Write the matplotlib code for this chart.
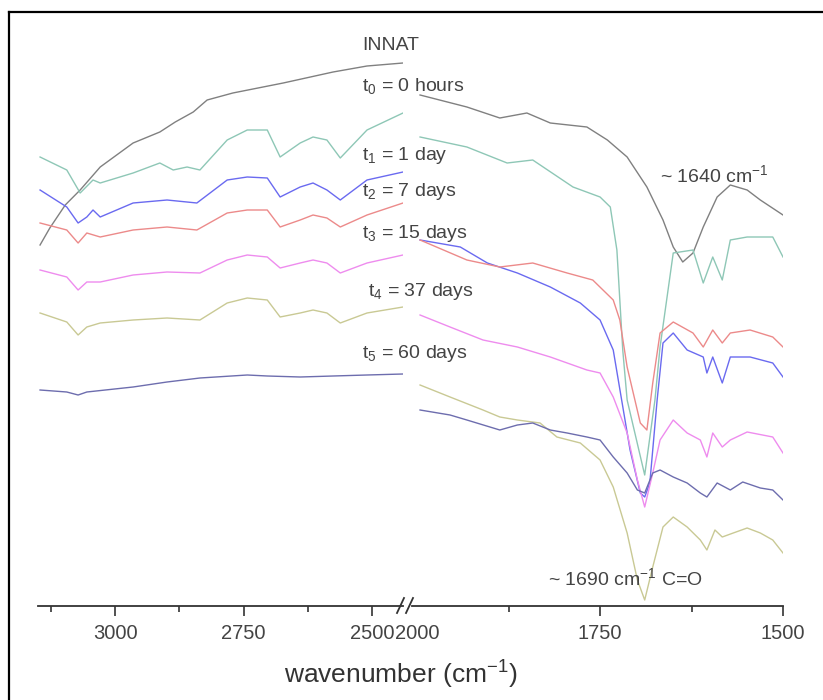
import matplotlib.pyplot as plt
from matplotlib.lines import Line2D
from matplotlib.ticker import FixedLocator

plt.rcParams['font.family'] = ['Liberation Sans', 'DejaVu Sans']
plt.rcParams['mathtext.fontset'] = 'custom'
plt.rcParams['mathtext.rm'] = 'Liberation Sans'
plt.rcParams['mathtext.it'] = 'Liberation Sans'
plt.rcParams['mathtext.default'] = 'regular'

# FTIR spectra, transmittance in arbitrary units (offset curves)
# high wavenumber region (3150-2440 cm-1)
wn_hi_innat = [3146, 3127, 3097, 3068, 3029, 2965, 2913, 2883, 2848, 2821, 2771, 2673, 2576, 2510, 2440]
tr_hi_innat = [361, 378, 401, 416, 439, 463, 474, 484, 494, 506, 513, 523, 534, 540, 543]

wn_hi_t0 = [3146, 3094, 3068, 3043, 3029, 2965, 2913, 2887, 2860, 2835, 2782, 2743, 2704, 2679, 2640, 2615, 2588, 2562, 2510, 2440]
tr_hi_t0 = [449, 436, 413, 426, 423, 433, 443, 436, 439, 436, 466, 476, 476, 449, 463, 469, 466, 448, 476, 493]

wn_hi_t1 = [3146, 3094, 3072, 3055, 3043, 3029, 2965, 2899, 2841, 2782, 2743, 2704, 2679, 2640, 2615, 2588, 2562, 2510, 2440]
tr_hi_t1 = [416, 399, 383, 389, 396, 389, 403, 406, 403, 426, 429, 428, 409, 419, 423, 416, 406, 426, 434]

wn_hi_t2 = [3146, 3094, 3072, 3055, 3029, 2965, 2899, 2841, 2782, 2743, 2704, 2679, 2640, 2615, 2588, 2562, 2510, 2440]
tr_hi_t2 = [383, 376, 363, 373, 369, 376, 379, 376, 393, 396, 396, 379, 386, 391, 388, 379, 391, 403]

wn_hi_t3 = [3146, 3094, 3072, 3055, 3029, 2965, 2899, 2835, 2782, 2743, 2704, 2679, 2640, 2615, 2588, 2562, 2510, 2440]
tr_hi_t3 = [336, 329, 316, 324, 324, 331, 334, 333, 346, 351, 349, 338, 343, 346, 343, 333, 343, 351]

wn_hi_t4 = [3146, 3094, 3072, 3055, 3029, 2965, 2899, 2835, 2782, 2743, 2704, 2679, 2640, 2615, 2588, 2562, 2510, 2440]
tr_hi_t4 = [293, 284, 271, 279, 283, 286, 288, 286, 303, 308, 306, 289, 293, 296, 293, 283, 293, 299]

wn_hi_t5 = [3146, 3094, 3072, 3055, 2965, 2899, 2835, 2743, 2704, 2640, 2576, 2510, 2440]
tr_hi_t5 = [216, 214, 211, 214, 219, 224, 228, 231, 230, 229, 230, 231, 232]

# low wavenumber region (2000-1500 cm-1)
wn_lo_innat = [1996, 1932, 1887, 1850, 1818, 1768, 1740, 1713, 1686, 1664, 1650, 1637, 1623, 1609, 1590, 1572, 1549, 1531, 1500]
tr_lo_innat = [511, 499, 488, 493, 483, 479, 466, 449, 419, 386, 359, 344, 353, 379, 409, 421, 416, 406, 391]

wn_lo_t0 = [1996, 1932, 1877, 1842, 1787, 1750, 1736, 1727, 1719, 1713, 1689, 1675, 1668, 1650, 1623, 1609, 1596, 1583, 1572, 1549, 1514, 1500]
tr_lo_t0 = [469, 459, 443, 446, 419, 409, 399, 356, 256, 206, 131, 206, 259, 353, 356, 323, 349, 326, 366, 369, 369, 349]

wn_lo_t1 = [1996, 1941, 1904, 1863, 1818, 1777, 1750, 1732, 1709, 1695, 1689, 1682, 1672, 1664, 1650, 1631, 1609, 1604, 1596, 1583, 1572, 1545, 1514, 1500]
tr_lo_t1 = [366, 359, 343, 333, 319, 303, 286, 256, 156, 113, 109, 123, 206, 263, 273, 256, 249, 233, 249, 223, 249, 249, 243, 229]

wn_lo_t2 = [1996, 1932, 1887, 1842, 1795, 1760, 1732, 1723, 1713, 1695, 1686, 1678, 1668, 1650, 1623, 1609, 1596, 1583, 1572, 1545, 1514, 1500]
tr_lo_t2 = [366, 346, 339, 343, 333, 326, 306, 286, 239, 183, 176, 223, 273, 284, 273, 259, 276, 263, 273, 276, 269, 259]

wn_lo_t3 = [1996, 1955, 1910, 1863, 1818, 1768, 1750, 1732, 1713, 1699, 1689, 1678, 1668, 1650, 1631, 1613, 1604, 1596, 1583, 1572, 1549, 1514, 1500]
tr_lo_t3 = [291, 279, 266, 259, 249, 236, 233, 209, 173, 126, 99, 133, 166, 186, 173, 166, 149, 173, 159, 166, 174, 169, 153]

wn_lo_t4 = [1996, 1955, 1910, 1887, 1863, 1832, 1809, 1777, 1750, 1732, 1713, 1699, 1689, 1678, 1664, 1650, 1631, 1613, 1604, 1593, 1583, 1568, 1549, 1531, 1514, 1500]
tr_lo_t4 = [221, 209, 196, 189, 186, 183, 169, 163, 146, 119, 73, 26, 6, 39, 79, 89, 79, 66, 56, 76, 69, 73, 78, 73, 66, 53]

wn_lo_t5 = [1996, 1955, 1932, 1887, 1863, 1842, 1818, 1795, 1768, 1750, 1732, 1713, 1699, 1689, 1678, 1668, 1650, 1631, 1613, 1604, 1590, 1572, 1555, 1531, 1514, 1500]
tr_lo_t5 = [196, 191, 186, 176, 181, 183, 176, 173, 169, 166, 149, 133, 116, 113, 133, 136, 129, 123, 113, 109, 123, 116, 124, 118, 116, 106]

labels = ['INNAT', '$t_0$ = 0 hours', '$t_1$ = 1 day', '$t_2$ = 7 days',
          '$t_3$ = 15 days', '$t_4$ = 37 days', '$t_5$ = 60 days']
colors = ['#808080', '#8ec7b6', '#6a6af0', '#ec8a8a', '#ee8cee', '#c9c994', '#6d6dae']

hi_x = [wn_hi_innat, wn_hi_t0, wn_hi_t1, wn_hi_t2, wn_hi_t3, wn_hi_t4, wn_hi_t5]
hi_y = [tr_hi_innat, tr_hi_t0, tr_hi_t1, tr_hi_t2, tr_hi_t3, tr_hi_t4, tr_hi_t5]
lo_x = [wn_lo_innat, wn_lo_t0, wn_lo_t1, wn_lo_t2, wn_lo_t3, wn_lo_t4, wn_lo_t5]
lo_y = [tr_lo_innat, tr_lo_t0, tr_lo_t1, tr_lo_t2, tr_lo_t3, tr_lo_t4, tr_lo_t5]

W, H = 823, 700
fig = plt.figure(figsize=(W / 100, H / 100), dpi=100)

def px(x, y):
    return x / W, 1 - y / H

bottom = 1 - 606 / H
height = 590 / H
ax1 = fig.add_axes([38 / W, bottom, 365 / W, height])
ax2 = fig.add_axes([412 / W, bottom, 371 / W, height])

for i in range(len(labels)):
    ax1.plot(hi_x[i], hi_y[i], color=colors[i], lw=1.0)
    ax2.plot(lo_x[i], lo_y[i], color=colors[i], lw=1.0)

ax1.set_xlim(3150, 2440)
ax2.set_xlim(2007, 1500)

for ax in (ax1, ax2):
    ax.set_ylim(0, 590)
    ax.set_yticks([])
    for s in ('top', 'left', 'right'):
        ax.spines[s].set_visible(False)
    ax.spines['bottom'].set_linewidth(1.3)
    ax.spines['bottom'].set_color('#333333')
    ax.patch.set_alpha(0)
    ax.tick_params(axis='x', which='major', direction='out', length=7, width=1.2,
                   labelsize=14.5, colors='#333333', pad=6)
    ax.tick_params(axis='x', which='minor', direction='out', length=4, width=1.2,
                   colors='#333333')
    for lab in ax.get_xticklabels():
        lab.set_color('#444444')

ax1.xaxis.set_major_locator(FixedLocator([3000, 2750, 2500]))
ax1.xaxis.set_minor_locator(FixedLocator([3125, 2875, 2625]))
ax2.xaxis.set_major_locator(FixedLocator([2000, 1750, 1500]))
ax2.xaxis.set_minor_locator(FixedLocator([1875, 1625]))
ax1.set_xticklabels(['3000', '2750', '2500'], color='#444444')
ax2.set_xticklabels(['2000', '1750', '1500'], color='#444444')
ax2.get_xticklines()[0].set_visible(False)

# axis break marks
for bx in (400, 409):
    fig.add_artist(Line2D([(bx - 3) / W, (bx + 4) / W], [1 - 613 / H, 1 - 598 / H],
                          color='#333333', lw=1.3))

# curve labels
label_pos = [(362, 45), (362, 86), (362, 156), (362, 191), (362, 233), (368, 291), (362, 354)]
for (x, y), txt in zip(label_pos, labels):
    fig.text(*px(x, y), txt, fontsize=14, color='#444444', va='center', ha='left')

fig.text(*px(660, 175), '~ 1640 cm$^{-1}$', fontsize=14, color='#444444', va='center', ha='left')
fig.text(*px(548, 578), '~ 1690 cm$^{-1}$ C=O', fontsize=14, color='#444444', va='center', ha='left')

fig.text(*px(401, 675), 'wavenumber (cm$^{-1}$)', fontsize=19, color='#333333',
         va='center', ha='center')

# outer frame (left and top edges)
fig.add_artist(Line2D([9 / W, 9 / W], [0, 1 - 12 / H], color='black', lw=1.6))
fig.add_artist(Line2D([9 / W, 1], [1 - 12 / H, 1 - 12 / H], color='black', lw=1.6))

fig.savefig('out.png', dpi=100)
